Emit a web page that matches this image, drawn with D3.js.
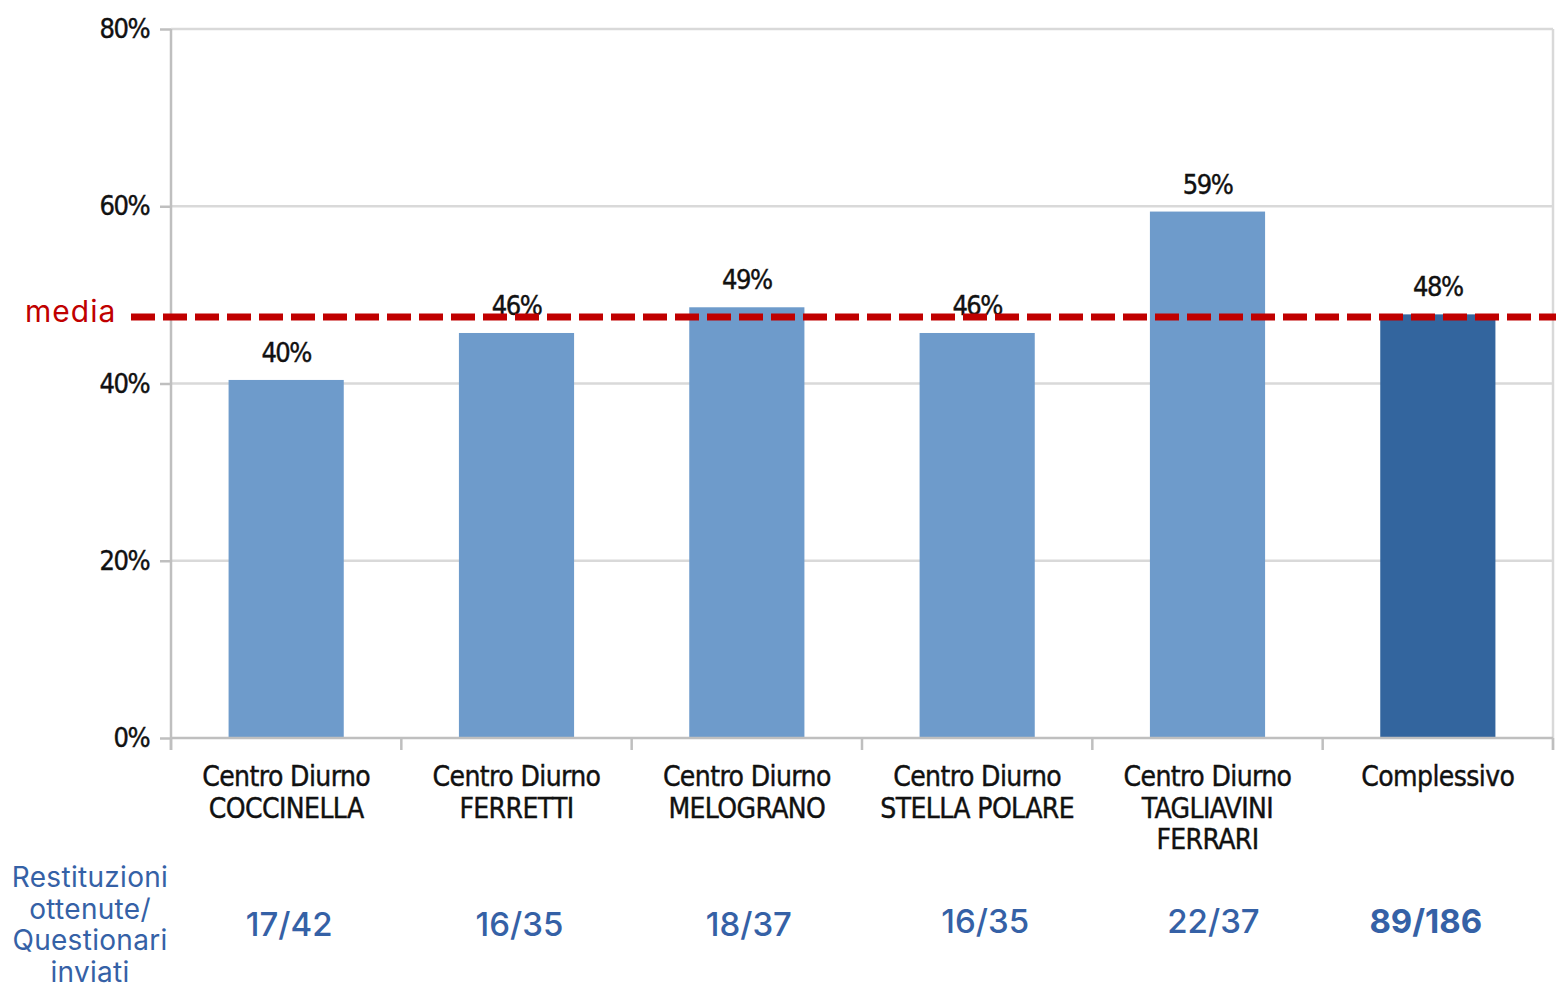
<!DOCTYPE html>
<html><head><meta charset="utf-8">
<script src="https://cdn.jsdelivr.net/npm/d3@7"></script>
<style>
html,body{margin:0;padding:0;background:#fff;}
svg{display:block;}
</style></head>
<body>
<svg id="c" width="1556" height="990"></svg>
<script>
const categories = [
  ["Centro Diurno","COCCINELLA"],
  ["Centro Diurno","FERRETTI"],
  ["Centro Diurno","MELOGRANO"],
  ["Centro Diurno","STELLA POLARE"],
  ["Centro Diurno","TAGLIAVINI","FERRARI"],
  ["Complessivo"]
];
const values = [40.4, 45.7, 48.6, 45.7, 59.4, 47.8];
const highlight = [false, false, false, false, false, true];
const yTicks = [0, 20, 40, 60, 80];
const mediaValue = 47.5;
const ratios = ["17/42", "16/35", "18/37", "16/35", "22/37", "89/186"];
const ratioLabel = ["Restituzioni", "ottenute/", "Questionari", "inviati"];

(function(){
const svg = d3.select("#c");
const pL = 171, pR = 1553, pT = 29, pB = 738;
const x = d3.scaleBand().domain(d3.range(categories.length)).range([pL, pR]).paddingInner(0.5).paddingOuter(0.25);
const xb = d3.scaleBand().domain(d3.range(categories.length)).range([pL, pR]);
const y = d3.scaleLinear().domain([0, 80]).range([pB, pT]);

const grid = "#D9D9D9", axisC = "#BFBFBF";
const tickFont = "'DejaVu Sans Condensed', 'DejaVu Sans', sans-serif";
const ink = "#111";

svg.append("g").selectAll("line").data(yTicks.filter(d => d > 0)).join("line")
  .attr("x1", pL).attr("x2", pR).attr("y1", d => y(d)).attr("y2", d => y(d))
  .attr("stroke", grid).attr("stroke-width", 2.5);
svg.append("line").attr("x1", pR).attr("x2", pR).attr("y1", pT).attr("y2", pB + 12)
  .attr("stroke", grid).attr("stroke-width", 2.5);

svg.append("g").selectAll("rect").data(values).join("rect")
  .attr("x", (d, i) => x(i)).attr("width", x.bandwidth())
  .attr("y", d => y(d)).attr("height", d => y(0) - y(d))
  .attr("fill", (d, i) => highlight[i] ? "#33659E" : "#6E9BCB");

const yAxis = svg.append("g").attr("transform", `translate(${pL},0)`)
  .call(d3.axisLeft(y).tickValues(yTicks).tickFormat(d => d + "%").tickSize(11).tickPadding(11));
yAxis.select(".domain").attr("stroke", axisC).attr("stroke-width", 2.5).attr("d", `M0,${pT}V${pB + 12}`);
yAxis.selectAll(".tick line").attr("stroke", axisC).attr("stroke-width", 2.5);
yAxis.selectAll(".tick text").attr("font-family", tickFont).attr("font-size", 27).attr("fill", ink)
  .attr("stroke", ink).attr("stroke-width", 0.4).attr("letter-spacing", -1.5);

const xAxis = svg.append("g").attr("transform", `translate(0,${pB})`)
  .call(d3.axisBottom(xb).tickSize(0).tickFormat(""));
xAxis.select(".domain").attr("stroke", axisC).attr("stroke-width", 2.5).attr("d", `M${pL},0H${pR}`);
svg.append("g").selectAll("line").data(d3.range(categories.length + 1)).join("line")
  .attr("x1", i => pL + i * xb.step()).attr("x2", i => pL + i * xb.step())
  .attr("y1", pB).attr("y2", pB + 12).attr("stroke", axisC).attr("stroke-width", 2.5);

const catG = svg.append("g").selectAll("text").data(categories).join("text")
  .attr("text-anchor", "middle").attr("font-family", tickFont).attr("font-size", 28)
  .attr("fill", ink).attr("stroke", ink).attr("stroke-width", 0.4).attr("letter-spacing", -0.6);
catG.each(function(lines, i) {
  d3.select(this).selectAll("tspan").data(lines).join("tspan")
    .attr("x", xb(i) + xb.bandwidth() / 2).attr("y", (l, j) => 786 + j * 31.5).text(l => l);
});

svg.append("g").selectAll("text").data(values).join("text")
  .attr("x", (d, i) => x(i) + x.bandwidth() / 2).attr("y", d => y(d) - 18)
  .attr("text-anchor", "middle").attr("font-family", tickFont).attr("font-size", 27)
  .attr("fill", ink).attr("stroke", ink).attr("stroke-width", 0.4).attr("letter-spacing", -1.5)
  .text(d => Math.round(d) + "%");

svg.append("line").attr("x1", 131).attr("x2", 1556).attr("y1", y(mediaValue)).attr("y2", y(mediaValue))
  .attr("stroke", "#C00000").attr("stroke-width", 7).attr("stroke-dasharray", "24 8");
svg.append("text").attr("x", 25).attr("y", y(mediaValue) + 5).attr("font-family", "Inter, 'Open Sans', sans-serif")
  .attr("font-size", 30).attr("letter-spacing", 1).attr("fill", "#C00000").text("media");

const blue = "#3561A6";
svg.append("g").selectAll("text").data(ratioLabel).join("text")
  .attr("x", 90).attr("y", (d, i) => 887 + i * 31.5).attr("text-anchor", "middle")
  .attr("font-family", "Inter, 'Open Sans', sans-serif").attr("font-size", 28).attr("letter-spacing", 0.3)
  .attr("fill", blue).text(d => d);
const ratioDx = [3, 3, 2, 8, 6, -12];
const ratioDy = [936, 936, 936, 933, 933, 933];
svg.append("g").selectAll("text").data(ratios).join("text")
  .attr("x", (d, i) => xb(i) + xb.bandwidth() / 2 + ratioDx[i]).attr("y", (d, i) => ratioDy[i])
  .attr("text-anchor", "middle").attr("font-family", "Inter, 'Open Sans', sans-serif")
  .attr("font-size", 33).attr("font-weight", (d, i) => highlight[i] ? 700 : 500)
  .attr("fill", blue).text(d => d);
})();
</script>
</body></html>
